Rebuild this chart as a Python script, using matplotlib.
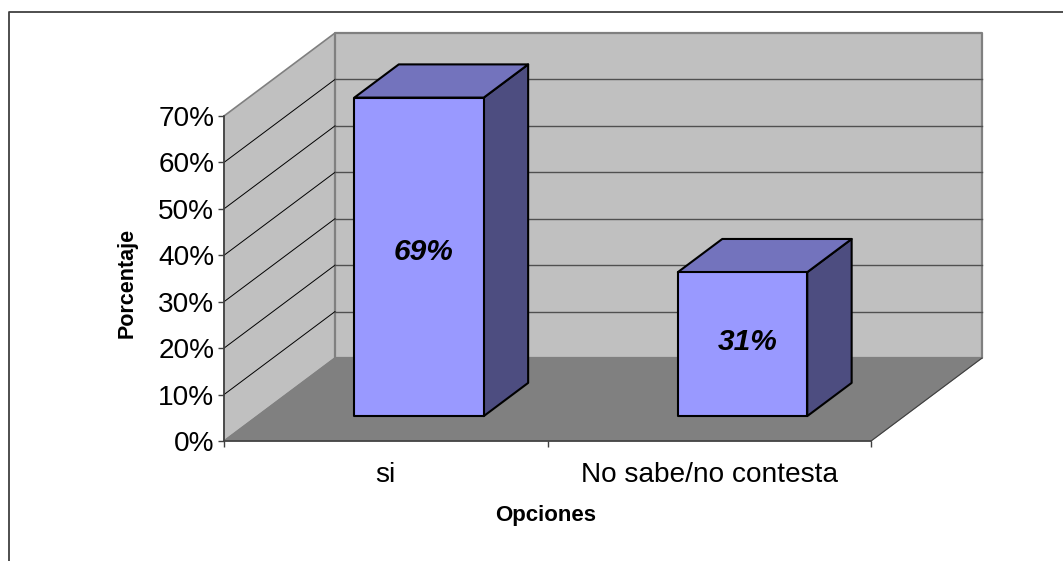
import matplotlib
matplotlib.use('Agg')
import matplotlib.pyplot as plt
from matplotlib.lines import Line2D
from matplotlib.patches import Polygon

plt.rcParams['font.family'] = ['Liberation Sans', 'DejaVu Sans']

categorias = ['si', 'No sabe/no contesta']
valores = [68.6, 31]
etiquetas = ['69%', '31%']
yticks = [0, 10, 20, 30, 40, 50, 60, 70]

W, H = 1063, 561
# depth of the 3d box, in data units of the front plane
DX = 111 / 323.5
DY = 83 / 4.643


def p(x, y, d=0):
    return (x + d * DX, y + d * DY)


def cara(ax, pts, color, ec='black', lw=1.5, z=2):
    ax.add_patch(Polygon(pts, closed=True, fc=color, ec=ec, lw=lw, clip_on=False,
                         joinstyle='round', zorder=z))


fig = plt.figure(figsize=(W / 100, H / 100), dpi=100)
ax = fig.add_axes([224 / W, 1 - 441 / H, 647 / W, 325 / H])
ax.set_xlim(0, 2)
ax.set_ylim(0, 70)
ax.patch.set_visible(False)

# frame round the chart, only top and left are in the picture
fig.add_artist(Line2D([1, 8.5 / W, 8.5 / W], [1 - 12 / H, 1 - 12 / H, 0], color='#404040', lw=1.3))

# walls and floor
cara(ax, [p(0, 0), p(0, 0, 1), p(0, 70, 1), p(0, 70)], '#c0c0c0', '#808080', 1.2, 1)
cara(ax, [p(0, 0, 1), p(2, 0, 1), p(2, 70, 1), p(0, 70, 1)], '#c0c0c0', '#808080', 1.6, 1)
cara(ax, [p(0, 0), p(2, 0), p(2, 0, 1), p(0, 0, 1)], '#808080', '#808080', 0.8, 1.5)
ax.plot(*zip(p(2, 0), p(2, 0, 1)), color='#404040', lw=0.8, clip_on=False, zorder=1.6)

for t in yticks[1:-1]:
    ax.plot(*zip(p(0, t), p(0, t, 1)), color='black', lw=0.7, clip_on=False, zorder=1.2)
    ax.plot(*zip(p(0, t, 1), p(2, t, 1)), color='#505050', lw=1.0, clip_on=False, zorder=1.2)

# bars
d0, d1 = 0.30, 0.70
ancho = 0.4
for i, v in enumerate(valores):
    x0 = i + 0.5 - ancho / 2
    x1 = i + 0.5 + ancho / 2
    cara(ax, [p(x1, 0, d0), p(x1, 0, d1), p(x1, v, d1), p(x1, v, d0)], '#4d4d80')
    cara(ax, [p(x0, v, d0), p(x1, v, d0), p(x1, v, d1), p(x0, v, d1)], '#7373bd')
    cara(ax, [p(x0, 0, d0), p(x1, 0, d0), p(x1, v, d0), p(x0, v, d0)], '#9999ff')
    xt, yt = p(i + 0.515, v * 0.515, d0)
    ax.text(xt, yt, etiquetas[i], ha='center', va='center', fontsize=21.5,
            fontweight='bold', fontstyle='italic', color='black', zorder=3)

for s in ['top', 'right']:
    ax.spines[s].set_visible(False)
for s in ['left', 'bottom']:
    ax.spines[s].set_color('#404040')
    ax.spines[s].set_linewidth(1.2)
    ax.spines[s].set_zorder(2.5)

ax.set_yticks(yticks)
ax.set_yticklabels([str(t) + '%' for t in yticks], fontsize=20.2, color='black')
ax.tick_params(axis='y', length=4, width=1, color='#404040', pad=3)
ax.set_xticks([0, 1, 2])
ax.set_xticklabels(['', '', ''])
ax.tick_params(axis='x', which='major', length=4, width=1, color='#404040')
ax.set_xticks([0.5, 1.5], minor=True)
ax.set_xticklabels(categorias, minor=True, fontsize=20.2, color='black')
ax.tick_params(axis='x', which='minor', length=0, pad=15)

fig.text(546 / W, 1 - 515 / H, 'Opciones', ha='center', va='center', fontsize=16, fontweight='bold')
fig.text(127 / W, 1 - 283 / H, 'Porcentaje', ha='center', va='center', rotation=90, fontsize=15.5, fontweight='bold')

fig.savefig('out.png', dpi=100)
